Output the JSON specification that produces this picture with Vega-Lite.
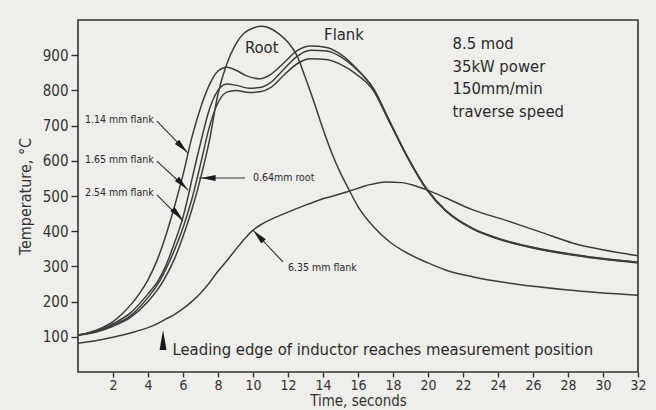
{
  "$schema": "https://vega.github.io/schema/vega-lite/v6.json",
  "autosize": {"type": "none"},
  "width": 560,
  "height": 352,
  "padding": {"left": 78, "top": 20, "right": 18, "bottom": 38},
  "background": "#efeeea",
  "config": {
    "font": "DejaVu Sans Condensed, Liberation Sans, sans-serif",
    "view": {"stroke": "#333333", "strokeWidth": 1.6},
    "axis": {"grid": false, "domain": false, "tickColor": "#333333", "tickWidth": 1.4, "labelColor": "#333333", "titleColor": "#333333", "labelFontSize": 15, "titleFontSize": 16, "titleFontWeight": "normal", "labelFont": "DejaVu Sans Condensed, sans-serif", "titleFont": "DejaVu Sans Condensed, sans-serif"}
  },
  "datasets": {
    "curves": [
      {"series": "1.14", "t": 0, "temp": 105}, {"series": "1.14", "t": 1, "temp": 118}, {"series": "1.14", "t": 2, "temp": 143}, {"series": "1.14", "t": 2.5, "temp": 164}, {"series": "1.14", "t": 3, "temp": 190}, {"series": "1.14", "t": 3.5, "temp": 222}, {"series": "1.14", "t": 4, "temp": 262}, {"series": "1.14", "t": 4.5, "temp": 315}, {"series": "1.14", "t": 5, "temp": 385}, {"series": "1.14", "t": 5.5, "temp": 468}, {"series": "1.14", "t": 6, "temp": 560}, {"series": "1.14", "t": 6.5, "temp": 665}, {"series": "1.14", "t": 7, "temp": 750}, {"series": "1.14", "t": 7.5, "temp": 815}, {"series": "1.14", "t": 8, "temp": 855}, {"series": "1.14", "t": 8.5, "temp": 866}, {"series": "1.14", "t": 9, "temp": 858}, {"series": "1.14", "t": 9.6, "temp": 842}, {"series": "1.14", "t": 10.4, "temp": 833}, {"series": "1.14", "t": 11, "temp": 845}, {"series": "1.14", "t": 11.8, "temp": 880}, {"series": "1.14", "t": 12.5, "temp": 912}, {"series": "1.14", "t": 13.3, "temp": 926}, {"series": "1.14", "t": 14.2, "temp": 922}, {"series": "1.14", "t": 15, "temp": 903}, {"series": "1.14", "t": 15.8, "temp": 868}, {"series": "1.14", "t": 16.9, "temp": 802}, {"series": "1.14", "t": 17.7, "temp": 722}, {"series": "1.14", "t": 18.8, "temp": 612}, {"series": "1.14", "t": 19.9, "temp": 520}, {"series": "1.14", "t": 21, "temp": 458}, {"series": "1.14", "t": 22.6, "temp": 405}, {"series": "1.14", "t": 24, "temp": 378}, {"series": "1.14", "t": 26.4, "temp": 348}, {"series": "1.14", "t": 29, "temp": 327}, {"series": "1.14", "t": 32, "temp": 310},
      {"series": "1.65", "t": 0, "temp": 105}, {"series": "1.65", "t": 1, "temp": 115}, {"series": "1.65", "t": 2, "temp": 137}, {"series": "1.65", "t": 3, "temp": 168}, {"series": "1.65", "t": 4, "temp": 222}, {"series": "1.65", "t": 4.6, "temp": 261}, {"series": "1.65", "t": 5, "temp": 300}, {"series": "1.65", "t": 5.5, "temp": 365}, {"series": "1.65", "t": 6, "temp": 440}, {"series": "1.65", "t": 6.3, "temp": 500}, {"series": "1.65", "t": 6.5, "temp": 545}, {"series": "1.65", "t": 7, "temp": 650}, {"series": "1.65", "t": 7.5, "temp": 745}, {"series": "1.65", "t": 8, "temp": 800}, {"series": "1.65", "t": 8.5, "temp": 818}, {"series": "1.65", "t": 9, "temp": 815}, {"series": "1.65", "t": 9.8, "temp": 806}, {"series": "1.65", "t": 10.4, "temp": 808}, {"series": "1.65", "t": 11, "temp": 822}, {"series": "1.65", "t": 11.8, "temp": 862}, {"series": "1.65", "t": 12.5, "temp": 896}, {"series": "1.65", "t": 13.3, "temp": 914}, {"series": "1.65", "t": 14.2, "temp": 912}, {"series": "1.65", "t": 15, "temp": 896}, {"series": "1.65", "t": 15.8, "temp": 865}, {"series": "1.65", "t": 16.9, "temp": 804}, {"series": "1.65", "t": 17.7, "temp": 724}, {"series": "1.65", "t": 18.8, "temp": 614}, {"series": "1.65", "t": 19.9, "temp": 522}, {"series": "1.65", "t": 21, "temp": 460}, {"series": "1.65", "t": 22.6, "temp": 407}, {"series": "1.65", "t": 24, "temp": 380}, {"series": "1.65", "t": 26.4, "temp": 350}, {"series": "1.65", "t": 29, "temp": 329}, {"series": "1.65", "t": 32, "temp": 312},
      {"series": "2.54", "t": 0, "temp": 105}, {"series": "2.54", "t": 1, "temp": 114}, {"series": "2.54", "t": 2, "temp": 133}, {"series": "2.54", "t": 3, "temp": 160}, {"series": "2.54", "t": 4, "temp": 212}, {"series": "2.54", "t": 4.7, "temp": 261}, {"series": "2.54", "t": 5, "temp": 290}, {"series": "2.54", "t": 5.5, "temp": 345}, {"series": "2.54", "t": 6, "temp": 410}, {"series": "2.54", "t": 6.5, "temp": 490}, {"series": "2.54", "t": 7, "temp": 590}, {"series": "2.54", "t": 7.5, "temp": 695}, {"series": "2.54", "t": 8, "temp": 765}, {"series": "2.54", "t": 8.5, "temp": 795}, {"series": "2.54", "t": 9, "temp": 800}, {"series": "2.54", "t": 9.8, "temp": 794}, {"series": "2.54", "t": 10.4, "temp": 796}, {"series": "2.54", "t": 11, "temp": 808}, {"series": "2.54", "t": 11.8, "temp": 845}, {"series": "2.54", "t": 12.5, "temp": 875}, {"series": "2.54", "t": 13.3, "temp": 890}, {"series": "2.54", "t": 14.2, "temp": 888}, {"series": "2.54", "t": 15, "temp": 874}, {"series": "2.54", "t": 15.8, "temp": 850}, {"series": "2.54", "t": 16.9, "temp": 798}, {"series": "2.54", "t": 17.7, "temp": 720}, {"series": "2.54", "t": 18.8, "temp": 613}, {"series": "2.54", "t": 19.9, "temp": 521}, {"series": "2.54", "t": 21, "temp": 459}, {"series": "2.54", "t": 22.6, "temp": 406}, {"series": "2.54", "t": 24, "temp": 379}, {"series": "2.54", "t": 26.4, "temp": 349}, {"series": "2.54", "t": 29, "temp": 328}, {"series": "2.54", "t": 32, "temp": 311},
      {"series": "0.64root", "t": 0, "temp": 105}, {"series": "0.64root", "t": 1, "temp": 113}, {"series": "0.64root", "t": 2, "temp": 130}, {"series": "0.64root", "t": 3, "temp": 155}, {"series": "0.64root", "t": 4, "temp": 200}, {"series": "0.64root", "t": 4.9, "temp": 261}, {"series": "0.64root", "t": 5.5, "temp": 320}, {"series": "0.64root", "t": 6, "temp": 385}, {"series": "0.64root", "t": 6.5, "temp": 460}, {"series": "0.64root", "t": 7, "temp": 550}, {"series": "0.64root", "t": 7.5, "temp": 655}, {"series": "0.64root", "t": 8, "temp": 790}, {"series": "0.64root", "t": 8.5, "temp": 875}, {"series": "0.64root", "t": 9, "temp": 930}, {"series": "0.64root", "t": 9.5, "temp": 963}, {"series": "0.64root", "t": 10, "temp": 977}, {"series": "0.64root", "t": 10.5, "temp": 982}, {"series": "0.64root", "t": 11, "temp": 976}, {"series": "0.64root", "t": 11.5, "temp": 960}, {"series": "0.64root", "t": 12, "temp": 937}, {"series": "0.64root", "t": 12.5, "temp": 900}, {"series": "0.64root", "t": 13, "temp": 835}, {"series": "0.64root", "t": 13.5, "temp": 765}, {"series": "0.64root", "t": 14, "temp": 690}, {"series": "0.64root", "t": 14.5, "temp": 622}, {"series": "0.64root", "t": 15, "temp": 565}, {"series": "0.64root", "t": 15.4, "temp": 526}, {"series": "0.64root", "t": 16, "temp": 470}, {"series": "0.64root", "t": 16.9, "temp": 412}, {"series": "0.64root", "t": 17.8, "temp": 370}, {"series": "0.64root", "t": 18.8, "temp": 338}, {"series": "0.64root", "t": 20, "temp": 310}, {"series": "0.64root", "t": 21, "temp": 290}, {"series": "0.64root", "t": 22.6, "temp": 270}, {"series": "0.64root", "t": 25, "temp": 250}, {"series": "0.64root", "t": 28, "temp": 233}, {"series": "0.64root", "t": 32, "temp": 218},
      {"series": "6.35", "t": 0, "temp": 82}, {"series": "6.35", "t": 1, "temp": 89}, {"series": "6.35", "t": 2, "temp": 99}, {"series": "6.35", "t": 3, "temp": 111}, {"series": "6.35", "t": 4, "temp": 126}, {"series": "6.35", "t": 4.6, "temp": 139}, {"series": "6.35", "t": 5, "temp": 150}, {"series": "6.35", "t": 5.5, "temp": 163}, {"series": "6.35", "t": 6, "temp": 180}, {"series": "6.35", "t": 6.5, "temp": 200}, {"series": "6.35", "t": 7, "temp": 224}, {"series": "6.35", "t": 7.5, "temp": 253}, {"series": "6.35", "t": 8, "temp": 286}, {"series": "6.35", "t": 8.6, "temp": 322}, {"series": "6.35", "t": 9, "temp": 347}, {"series": "6.35", "t": 9.5, "temp": 377}, {"series": "6.35", "t": 10, "temp": 403}, {"series": "6.35", "t": 10.5, "temp": 420}, {"series": "6.35", "t": 11, "temp": 433}, {"series": "6.35", "t": 11.9, "temp": 452}, {"series": "6.35", "t": 13, "temp": 474}, {"series": "6.35", "t": 14, "temp": 492}, {"series": "6.35", "t": 15.4, "temp": 512}, {"series": "6.35", "t": 16.5, "temp": 530}, {"series": "6.35", "t": 17.6, "temp": 540}, {"series": "6.35", "t": 18.5, "temp": 538}, {"series": "6.35", "t": 19.2, "temp": 530}, {"series": "6.35", "t": 19.9, "temp": 518}, {"series": "6.35", "t": 21, "temp": 495}, {"series": "6.35", "t": 22.5, "temp": 462}, {"series": "6.35", "t": 24.5, "temp": 430}, {"series": "6.35", "t": 26.4, "temp": 398}, {"series": "6.35", "t": 28.3, "temp": 366}, {"series": "6.35", "t": 30, "temp": 347}, {"series": "6.35", "t": 32, "temp": 330}
    ],
    "smallLabels": [
      {"text": "1.14 mm flank", "t": 0.4, "temp": 716},
      {"text": "1.65 mm flank", "t": 0.4, "temp": 602},
      {"text": "2.54 mm flank", "t": 0.4, "temp": 509},
      {"text": "0.64mm root", "t": 10.0, "temp": 551},
      {"text": "6.35 mm flank", "t": 12.0, "temp": 295}
    ],
    "bigCenter": [
      {"text": "Root", "t": 10.5, "temp": 920},
      {"text": "Flank", "t": 15.2, "temp": 957}
    ],
    "bigLeft": [
      {"text": "8.5 mod", "t": 21.4, "temp": 932},
      {"text": "35kW power", "t": 21.4, "temp": 866},
      {"text": "150mm/min", "t": 21.4, "temp": 804},
      {"text": "traverse speed", "t": 21.4, "temp": 739},
      {"text": "Leading edge of inductor reaches measurement position", "t": 5.4, "temp": 63}
    ],
    "arrows": [
      {"label": "1.14", "t": 4.51, "temp": 713, "t2": 6.29, "temp2": 622},
      {"label": "1.65", "t": 4.51, "temp": 599, "t2": 6.29, "temp2": 517},
      {"label": "2.54", "t": 4.51, "temp": 503, "t2": 6.0, "temp2": 429},
      {"label": "0.64root", "t": 9.54, "temp": 551, "t2": 6.9, "temp2": 551},
      {"label": "6.35", "t": 11.71, "temp": 313, "t2": 10.0, "temp2": 403}
    ],
    "heads": [
      {"label": "1.14", "t": 5.95, "temp": 639},
      {"label": "1.65", "t": 5.95, "temp": 534},
      {"label": "2.54", "t": 5.69, "temp": 448},
      {"label": "0.64root", "t": 7.45, "temp": 551},
      {"label": "6.35", "t": 10.32, "temp": 386},
      {"label": "leading", "t": 4.86, "temp": 91}
    ]
  },
  "layer": [
    {
      "data": {"name": "curves"},
      "mark": {"type": "line", "color": "#3d3d3d", "strokeWidth": 1.5, "interpolate": "monotone"},
      "encoding": {
        "x": {"field": "t", "type": "quantitative", "scale": {"domain": [0, 32], "nice": false}, "axis": {"values": [2, 4, 6, 8, 10, 12, 14, 16, 18, 20, 22, 24, 26, 28, 30, 32], "tickCount": 40, "labelOverlap": false, "labelFlush": false, "labelFontSize": 14, "tickSize": 5, "labelPadding": 1, "title": "Time, seconds", "titleFontSize": 15, "titlePadding": 1}},
        "y": {"field": "temp", "type": "quantitative", "scale": {"domain": [0, 1000], "nice": false}, "axis": {"values": [100, 200, 300, 400, 500, 600, 700, 800, 900], "tickCount": 20, "labelOverlap": false, "tickSize": 7, "labelPadding": 3, "title": "Temperature, °C", "titlePadding": 9}},
        "detail": {"field": "series"}
      }
    },
    {
      "data": {"name": "arrows"},
      "mark": {"type": "rule", "color": "#333333", "strokeWidth": 1.1},
      "encoding": {
        "x": {"field": "t", "type": "quantitative"},
        "y": {"field": "temp", "type": "quantitative"},
        "x2": {"field": "t2"},
        "y2": {"field": "temp2"}
      }
    },
    {
      "data": {"name": "heads"},
      "transform": [{"filter": "datum.label === '1.14' || datum.label === '1.65' || datum.label === '2.54'"}],
      "mark": {"type": "point", "shape": "M0,-1L0.42,1L-0.42,1Z", "filled": true, "color": "#1a1a1a", "opacity": 1, "size": 210, "angle": 135},
      "encoding": {"x": {"field": "t", "type": "quantitative"}, "y": {"field": "temp", "type": "quantitative"}}
    },
    {
      "data": {"name": "heads"},
      "transform": [{"filter": "datum.label === '0.64root'"}],
      "mark": {"type": "point", "shape": "M0,-1L0.42,1L-0.42,1Z", "filled": true, "color": "#1a1a1a", "opacity": 1, "size": 210, "angle": 270},
      "encoding": {"x": {"field": "t", "type": "quantitative"}, "y": {"field": "temp", "type": "quantitative"}}
    },
    {
      "data": {"name": "heads"},
      "transform": [{"filter": "datum.label === '6.35'"}],
      "mark": {"type": "point", "shape": "M0,-1L0.42,1L-0.42,1Z", "filled": true, "color": "#1a1a1a", "opacity": 1, "size": 210, "angle": 317},
      "encoding": {"x": {"field": "t", "type": "quantitative"}, "y": {"field": "temp", "type": "quantitative"}}
    },
    {
      "data": {"name": "heads"},
      "transform": [{"filter": "datum.label === 'leading'"}],
      "mark": {"type": "point", "shape": "M0,-1L0.35,1L-0.35,1Z", "filled": true, "color": "#1a1a1a", "opacity": 1, "size": 400, "angle": 0},
      "encoding": {"x": {"field": "t", "type": "quantitative"}, "y": {"field": "temp", "type": "quantitative"}}
    },
    {
      "data": {"name": "smallLabels"},
      "mark": {"type": "text", "align": "left", "baseline": "middle", "fontSize": 10.5, "color": "#2a2a2a", "font": "DejaVu Sans Condensed, sans-serif"},
      "encoding": {"x": {"field": "t", "type": "quantitative"}, "y": {"field": "temp", "type": "quantitative"}, "text": {"field": "text"}}
    },
    {
      "data": {"name": "bigCenter"},
      "mark": {"type": "text", "align": "center", "baseline": "middle", "fontSize": 16.5, "color": "#2a2a2a", "font": "DejaVu Sans Condensed, sans-serif"},
      "encoding": {"x": {"field": "t", "type": "quantitative"}, "y": {"field": "temp", "type": "quantitative"}, "text": {"field": "text"}}
    },
    {
      "data": {"name": "bigLeft"},
      "mark": {"type": "text", "align": "left", "baseline": "middle", "fontSize": 16.5, "color": "#2a2a2a", "font": "DejaVu Sans Condensed, sans-serif"},
      "encoding": {"x": {"field": "t", "type": "quantitative"}, "y": {"field": "temp", "type": "quantitative"}, "text": {"field": "text"}}
    }
  ]
}
